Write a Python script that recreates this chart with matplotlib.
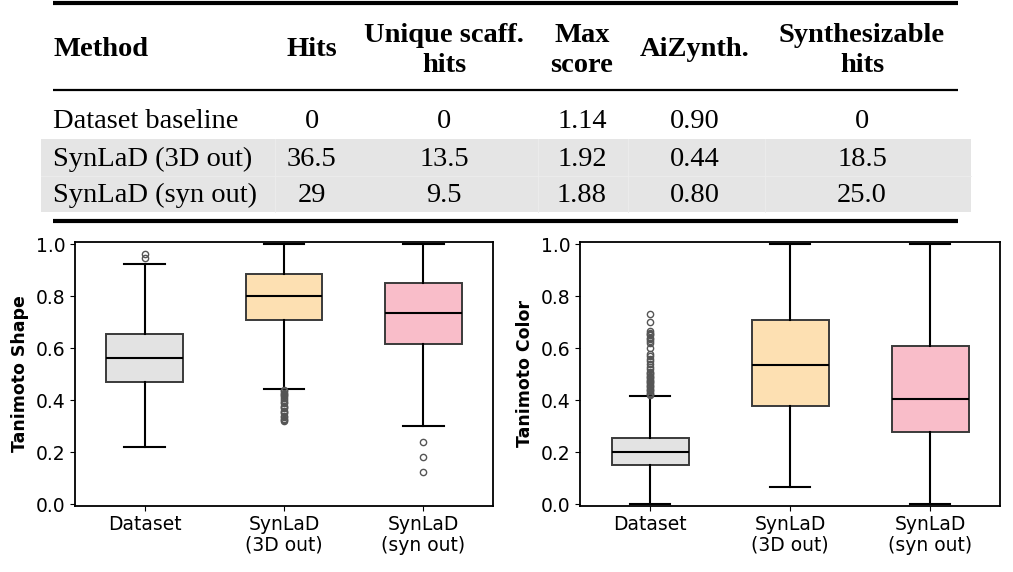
import matplotlib
matplotlib.use("Agg")
import matplotlib.pyplot as plt

# ---- table data ----
headers = ["Method", "Hits", "Unique scaff.\nhits", "Max\nscore", "AiZynth.", "Synthesizable\nhits"]
methods = ["Dataset baseline", "SynLaD (3D out)", "SynLaD (syn out)"]
hits = ["0", "36.5", "29"]
uniq_hits = ["0", "13.5", "9.5"]
max_score = ["1.14", "1.92", "1.88"]
aizynth = ["0.90", "0.44", "0.80"]
synth_hits = ["0", "18.5", "25.0"]

# ---- box plot data ----
groups = ["Dataset", "SynLaD\n(3D out)", "SynLaD\n(syn out)"]
box_colors = ["#e3e3e3", "#fde0b2", "#f9bdc9"]

shape_whislo = [0.221, 0.445, 0.300]
shape_q1 = [0.469, 0.709, 0.618]
shape_med = [0.563, 0.803, 0.737]
shape_q3 = [0.656, 0.887, 0.853]
shape_whishi = [0.926, 1.0, 1.0]
shape_fliers = [
    [0.963, 0.947],
    [0.440, 0.435, 0.430, 0.425, 0.420, 0.415, 0.410, 0.400, 0.395, 0.390,
     0.380, 0.375, 0.370, 0.360, 0.355, 0.350, 0.340, 0.335, 0.330, 0.325, 0.320],
    [0.238, 0.182, 0.126],
]

color_whislo = [0.0, 0.068, 0.0]
color_q1 = [0.151, 0.378, 0.277]
color_med = [0.200, 0.536, 0.405]
color_q3 = [0.256, 0.708, 0.608]
color_whishi = [0.417, 1.0, 1.0]
color_fliers = [
    [0.420, 0.425, 0.430, 0.435, 0.440, 0.445, 0.450, 0.455, 0.460, 0.465,
     0.470, 0.475, 0.480, 0.485, 0.490, 0.495, 0.500, 0.505, 0.510, 0.520,
     0.530, 0.540, 0.550, 0.560, 0.570, 0.580, 0.600, 0.620, 0.630, 0.635,
     0.640, 0.650, 0.655, 0.660, 0.668, 0.700, 0.731],
    [],
    [],
]

fig = plt.figure(figsize=(10.13, 5.72), dpi=100)

# ---- table, drawn in pixel space ----
tab = fig.add_axes([0, 0, 1, 1], zorder=0)
tab.set_xlim(0, 1013)
tab.set_ylim(572, 0)
tab.axis("off")

serif = "Liberation Serif"
fs = 20.5
col_x = [53, 312, 444, 582, 695, 862]
row_base = [128, 166.5, 201.5]

tab.add_patch(plt.Rectangle((41, 139), 930, 73, color="#e5e5e5", lw=0, zorder=0))
for x in [275, 538, 628, 765]:
    tab.plot([x, x], [139, 212], color="#ededed", lw=0.6, zorder=1)
tab.plot([41, 971], [176, 176], color="#ededed", lw=0.6, zorder=1)

tab.plot([53, 958], [2.5, 2.5], color="black", lw=3.0, solid_capstyle="butt")
tab.plot([53, 958], [89.5, 89.5], color="black", lw=1.6, solid_capstyle="butt")
tab.plot([53, 958], [220.5, 220.5], color="black", lw=3.0, solid_capstyle="butt")

for i, h in enumerate(headers):
    ha = "left" if i == 0 else "center"
    if "\n" in h:
        top, bottom = h.split("\n")
        tab.text(col_x[i], 42, top, ha=ha, va="baseline", fontsize=fs,
                 fontweight="bold", family=serif)
        tab.text(col_x[i], 72, bottom, ha=ha, va="baseline", fontsize=fs,
                 fontweight="bold", family=serif)
    else:
        tab.text(col_x[i], 56, h, ha=ha, va="baseline", fontsize=fs,
                 fontweight="bold", family=serif)

columns = [methods, hits, uniq_hits, max_score, aizynth, synth_hits]
for c, vals in enumerate(columns):
    for r, v in enumerate(vals):
        tab.text(col_x[c], row_base[r], v, ha="left" if c == 0 else "center",
                 va="baseline", fontsize=fs, family=serif)


# ---- box plots ----
def draw_box(ax, lo, q1, med, q3, hi, fliers, ylabel):
    stats = []
    for i in range(len(groups)):
        stats.append(dict(whislo=lo[i], q1=q1[i], med=med[i], q3=q3[i],
                          whishi=hi[i], fliers=fliers[i]))
    bp = ax.bxp(stats, positions=range(len(groups)), widths=0.55,
                capwidths=0.29, patch_artist=True,
                boxprops=dict(edgecolor="#3a3a3a", linewidth=1.4),
                medianprops=dict(color="black", linewidth=1.5),
                whiskerprops=dict(color="black", linewidth=1.5),
                capprops=dict(color="black", linewidth=1.5),
                flierprops=dict(marker="o", markersize=4.5, markerfacecolor="none",
                                markeredgecolor="#555555", markeredgewidth=1.0))
    for patch, col in zip(bp["boxes"], box_colors):
        patch.set_facecolor(col)
    ax.set_xticks(range(len(groups)))
    ax.set_xticklabels(groups, fontsize=13.5, linespacing=1.1)
    ax.set_xlim(-0.5, 2.5)
    ax.set_ylim(-0.0065, 1.01)
    ax.set_yticks([0.0, 0.2, 0.4, 0.6, 0.8, 1.0])
    ax.tick_params(axis="y", labelsize=13.5)
    ax.tick_params(axis="x", pad=3)
    ax.set_ylabel(ylabel, fontsize=12.5, fontweight="bold", labelpad=5)
    for s in ax.spines.values():
        s.set_linewidth(1.3)


ax1 = fig.add_axes([75 / 1013, 66 / 572, 418 / 1013, 264.3 / 572], zorder=2)
draw_box(ax1, shape_whislo, shape_q1, shape_med, shape_q3, shape_whishi,
         shape_fliers, "Tanimoto Shape")

ax2 = fig.add_axes([580 / 1013, 66 / 572, 420 / 1013, 264.3 / 572], zorder=2)
draw_box(ax2, color_whislo, color_q1, color_med, color_q3, color_whishi,
         color_fliers, "Tanimoto Color")

fig.savefig("out.png", dpi=100)
